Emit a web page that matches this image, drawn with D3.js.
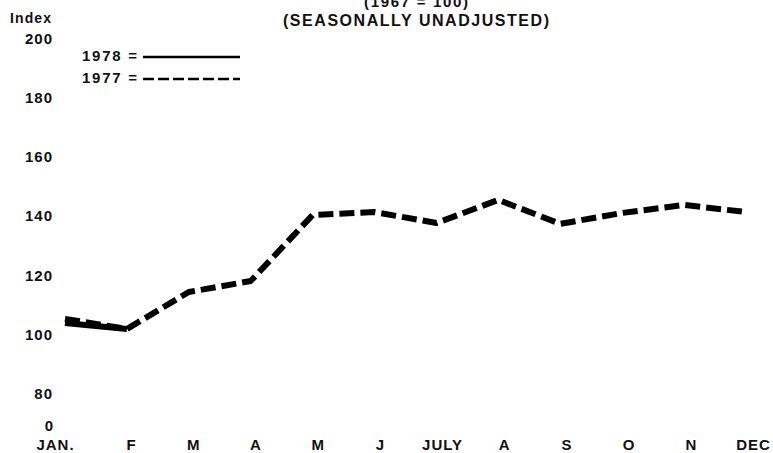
<!DOCTYPE html>
<html>
<head>
<meta charset="utf-8">
<script src="https://cdn.jsdelivr.net/npm/d3@7/dist/d3.min.js"></script>
<style>
  html, body { margin: 0; padding: 0; background: #fff; }
  svg { display: block; }
  text { font-family: "Liberation Sans", Arial, Helvetica, sans-serif; font-weight: bold; fill: #111; }
</style>
</head>
<body>
<svg id="chart" width="773" height="453"></svg>
<script>
// ---- data ----
const months = ["JAN.", "F", "M", "A", "M", "J", "JULY", "A", "S", "O", "N", "DEC"];
const values1977 = [105.1, 101.7, 114.2, 117.9, 140.2, 141.2, 137.5, 145.3, 137.2, 140.9, 143.6, 141.2];
const values1978 = [103.7, 101.7];
const yTicks = [80, 100, 120, 140, 160, 180, 200];
const brokenAxisLabel = "0";
const titleLine1 = "(1967 = 100)";
const titleLine2 = "(SEASONALLY  UNADJUSTED)";
const yAxisTitle = "Index";
const legendItems = [
  { label: "1978 =", dashed: false },
  { label: "1977 =", dashed: true }
];

// ---- layout ----
const svg = d3.select("#chart");
const idx = d3.range(months.length);

const x = d3.scalePoint().domain(idx).range([65, 746]);
const xLabel = d3.scalePoint().domain(idx).range([69, 753]);
const y = d3.scaleLinear().domain([80, 200]).range([393.2, 38]);

// titles
svg.append("text").attr("x", 416).attr("y", 7)
  .attr("text-anchor", "middle").style("font-size", "15px")
  .attr("textLength", 104).text(titleLine1);
svg.append("text").attr("x", 416).attr("y", 26)
  .attr("text-anchor", "middle").style("font-size", "16px")
  .attr("textLength", 266).text(titleLine2);

// y axis title
svg.append("text").attr("x", 10).attr("y", 23)
  .style("font-size", "14px").attr("textLength", 41).text(yAxisTitle);

// y axis (labels only)
const yAxis = d3.axisLeft(y).tickValues(yTicks).tickSize(0).tickPadding(0).tickFormat(d3.format("d"));
const gy = svg.append("g").attr("transform", "translate(53,0)").call(yAxis);
gy.select(".domain").remove();
gy.selectAll("text")
  .style("font-size", "15px").style("font-family", "'Liberation Sans', Arial, sans-serif")
  .style("font-weight", "bold").attr("fill", "#111")
  .attr("dy", "0.35em").style("letter-spacing", "1px");

// broken-axis "0"
svg.append("text").attr("x", 53).attr("y", y(80) + 33)
  .attr("text-anchor", "end").attr("dy", "0.35em")
  .style("font-size", "15px").text(brokenAxisLabel);

// x axis labels
const xAxis = d3.axisBottom(xLabel).tickSize(0).tickPadding(0).tickFormat(i => months[i]);
const gx = svg.append("g").attr("transform", "translate(0,439)").call(xAxis);
gx.select(".domain").remove();
gx.selectAll("text")
  .style("font-size", "15px").style("font-family", "'Liberation Sans', Arial, sans-serif")
  .style("font-weight", "bold").attr("fill", "#111")
  .attr("dy", "0.71em").style("letter-spacing", "1px")
  .attr("dx", (d) => d === 0 ? -14 : 0);

// lines
const line = d3.line().x((d, i) => x(i)).y(d => y(d));

svg.append("path").datum(values1977)
  .attr("d", line).attr("fill", "none").attr("stroke", "#000")
  .attr("stroke-width", 6).attr("stroke-dasharray", "15,6")
  .attr("stroke-linejoin", "round");

svg.append("path").datum(values1978)
  .attr("d", line).attr("fill", "none").attr("stroke", "#000")
  .attr("stroke-width", 6).attr("stroke-linecap", "butt");

// legend
const lg = svg.append("g");
legendItems.forEach((item, k) => {
  const yy = 61 + k * 22;
  lg.append("text").attr("x", 82).attr("y", yy)
    .style("font-size", "15px").attr("textLength", 55).text(item.label);
  lg.append("line").attr("x1", 143).attr("x2", 240)
    .attr("y1", yy - 4).attr("y2", yy - 4)
    .attr("stroke", "#000").attr("stroke-width", 2.5)
    .attr("stroke-dasharray", item.dashed ? "11,4" : null);
});
</script>
</body>
</html>
